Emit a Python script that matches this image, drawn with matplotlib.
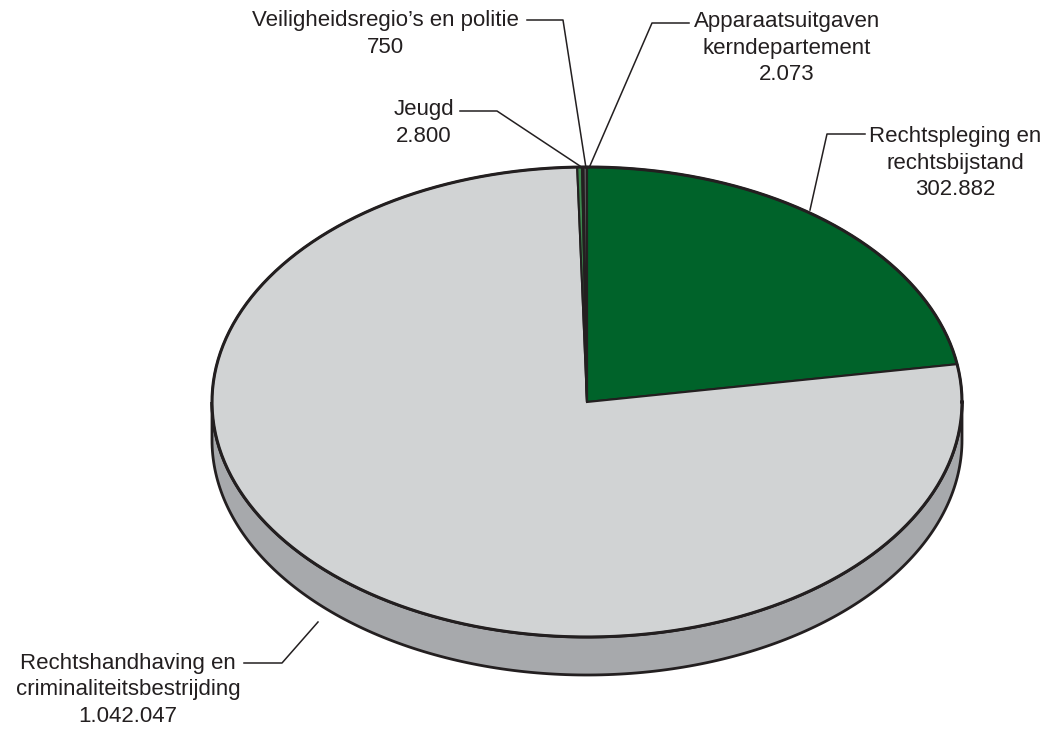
import numpy as np
import matplotlib.pyplot as plt
from matplotlib.patches import Polygon

plt.rcParams['font.family'] = ['Liberation Sans', 'DejaVu Sans']

# data (clockwise from 12 o'clock)
labels = ['Rechtspleging en\nrechtsbijstand', 'Rechtshandhaving en\ncriminaliteitsbestrijding',
          'Jeugd', 'Veiligheidsregio’s en politie', 'Apparaatsuitgaven\nkerndepartement']
values = [302882, 1042047, 2800, 750, 2073]
value_text = ['302.882', '1.042.047', '2.800', '750', '2.073']
colors = ['#00632a', '#d1d3d4', '#3c8a4e', '#a7a9ac', '#58595b']

# geometry of the tilted pie (pixels)
cx, cy, rx, ry, depth = 587, 402, 375, 235, 38

def pt(t):
    return cx + rx * np.cos(t), cy - ry * np.sin(t)

fig = plt.figure(figsize=(10.48, 7.29), dpi=100)
ax = fig.add_axes([0, 0, 1, 1])
ax.set_xlim(0, 1048)
ax.set_ylim(729, 0)
ax.axis('off')

# side wall (front half)
t = np.linspace(np.pi, 2 * np.pi, 200)
xs, ys = pt(t)
side = np.concatenate([np.column_stack([xs, ys]), np.column_stack([xs[::-1], ys[::-1] + depth])])
ax.add_patch(Polygon(side, closed=True, fc='#a7a9ac', ec='#231f20', lw=2.0, zorder=1))

# top slices
total = sum(values)
start = np.pi / 2
for v, c in zip(values, colors):
    span = 2 * np.pi * v / total
    tt = np.linspace(start, start - span, max(int(span * 80), 3))
    px, py = pt(tt)
    poly = np.column_stack([np.r_[cx, px], np.r_[cy, py]])
    ax.add_patch(Polygon(poly, closed=True, fc=c, ec='#231f20', lw=1.5, zorder=2))
    start -= span

# outer rim
t = np.linspace(0, 2 * np.pi, 400)
xs, ys = pt(t)
ax.plot(xs, ys, color='#231f20', lw=2.2, zorder=3)

# labels and leader lines
text_pos = [(955, 163), (128, 690), (424, 123), (385, 34), (787, 48)]
leaders = [
    [(865, 134), (827, 134), (810, 210)],
    [(244, 663), (282, 663), (318, 622)],
    [(460, 111), (497, 111), (583, 168)],
    [(527, 20), (563, 20), (586, 168)],
    [(689, 23), (652, 23), (589, 168)],
]
for lab, vt, (x, y), ln in zip(labels, value_text, text_pos, leaders):
    ax.text(x, y, lab + '\n' + vt, ha='center', va='center', fontsize=16,
            color='#231f20', linespacing=1.32)
    lx, ly = zip(*ln)
    ax.plot(lx, ly, color='#231f20', lw=1.1, zorder=4)

fig.savefig('out.png', dpi=100)
